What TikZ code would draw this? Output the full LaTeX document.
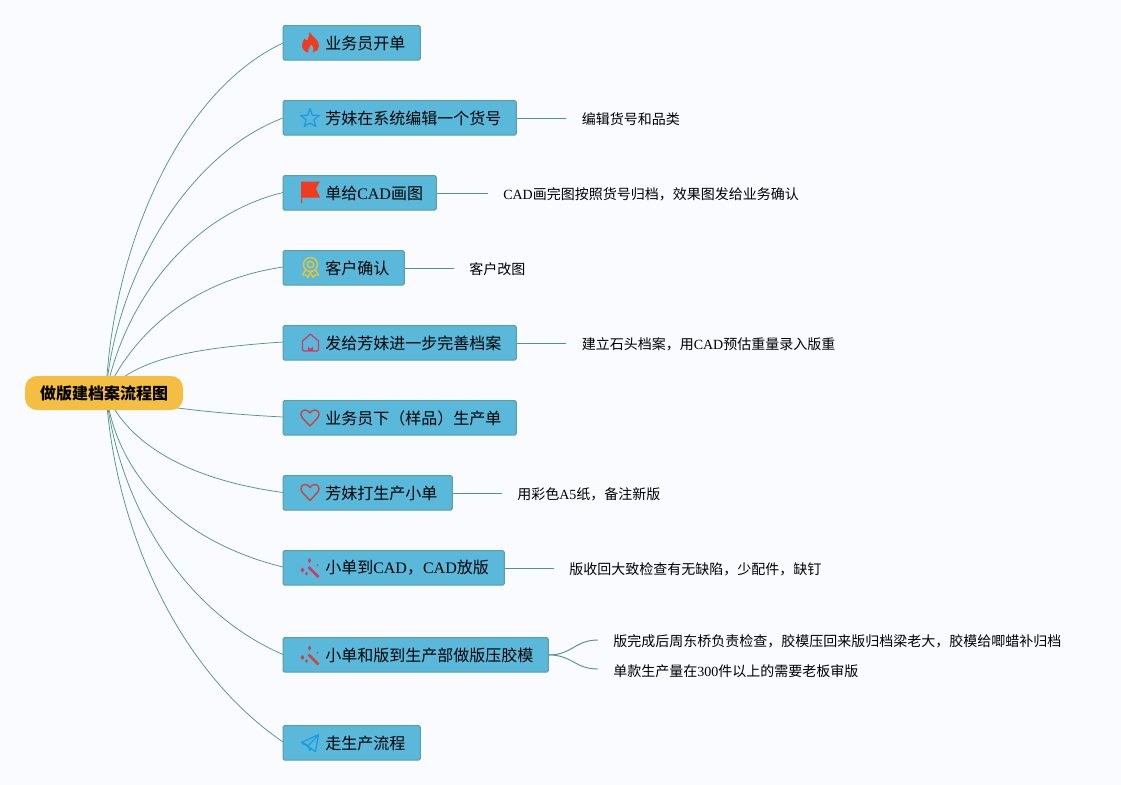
\documentclass[tikz,border=0pt]{standalone}
\usepackage{fontspec}
\setmainfont{Liberation Serif}
\newfontfamily\cjk{Noto Sans CJK SC}
\newcommand{\zh}[1]{{\cjk #1}}
\definecolor{bgc}{HTML}{F9FBFF}
\definecolor{boxfill}{HTML}{5AB8DA}
\definecolor{boxedge}{HTML}{5A9FA8}
\definecolor{linkc}{HTML}{4F9488}
\definecolor{rootc}{HTML}{F4BE42}
\definecolor{fire}{HTML}{F23A1E}
\definecolor{bluei}{HTML}{1E9BE0}
\definecolor{gold}{HTML}{E8C33A}
\definecolor{rosei}{HTML}{D23A62}
\definecolor{redi}{HTML}{C8463C}
\tikzset{
  x=0.75pt,y=-0.75pt,
  rootnode/.style={fill=rootc,rounded corners=9pt,minimum width=118.5pt,minimum height=25.5pt,inner sep=0pt,font=\fontsize{12pt}{14pt}\selectfont\bfseries},
  boxnode/.style={fill=boxfill,draw=boxedge,line width=0.8pt,rounded corners=1.2pt,anchor=north west,minimum height=26pt,inner sep=0pt},
  boxtext/.style={anchor=west,inner sep=0pt,font=\fontsize{12pt}{14pt}\selectfont},
  notetext/.style={anchor=west,inner sep=0pt,font=\fontsize{10.5pt}{13pt}\selectfont},
  link/.style={draw=linkc,line width=0.55pt},
  notelink/.style={link,yshift=0.6pt},
  iconline/.style={line width=0.95pt,line join=round},
}
\newcommand{\wandicon}[1]{%
  \draw[#1,line width=2.1pt] (-2,-1) -- (8,9);
  \fill[#1] (-8,-0.5) -- (-6,2) -- (-8,4.5) -- (-10,2) -- cycle;
  \fill[#1] (-1,-10) -- (0.6,-7.5) -- (-1,-5) -- (-2.6,-7.5) -- cycle;
  \fill[#1] (-4,3.5) -- (-2.6,5.5) -- (-4,7.5) -- (-5.4,5.5) -- cycle;
  \fill[#1] (7,-3) circle[radius=1];
}
\newcommand{\hearticon}{%
  \draw[redi,line width=1.05pt,line join=round] (0,8) -- (-7.5,0) .. controls (-11,-4) and (-8,-8) .. (-5,-8) .. controls (-3,-8) and (-1,-7) .. (0,-5) .. controls (1,-7) and (3,-8) .. (5,-8) .. controls (8,-8) and (11,-4) .. (7.5,0) -- cycle;
}
\begin{document}
\begin{tikzpicture}
\useasboundingbox[fill=bgc] (0,0) rectangle (1121,785);
\coordinate (hub) at (106,393);
\coordinate (b1w) at (283,43);
\coordinate (b2w) at (283,118);
\coordinate (b3w) at (283,192.5);
\coordinate (b4w) at (283,267);
\coordinate (b5w) at (283,342);
\coordinate (b6w) at (283,417);
\coordinate (b7w) at (283,492.5);
\coordinate (b8w) at (283,567);
\coordinate (b9w) at (283,654.5);
\coordinate (b10w) at (283,742);
\draw[link] (hub) .. controls (112,250) and (178,92) .. (b1w);
\draw[link] (hub) .. controls (115,280) and (185,155) .. (b2w);
\draw[link] (hub) .. controls (125,300) and (190,215) .. (b3w);
\draw[link] (hub) .. controls (135,330) and (195,280) .. (b4w);
\draw[link] (hub) .. controls (135,358) and (195,348) .. (b5w);
\draw[link] (hub) .. controls (140,405) and (205,413) .. (b6w);
\draw[link] (hub) .. controls (128,445) and (190,480) .. (b7w);
\draw[link] (hub) .. controls (118,480) and (185,543) .. (b8w);
\draw[link] (hub) .. controls (118,500) and (180,610) .. (b9w);
\draw[link] (hub) .. controls (115,530) and (178,670) .. (b10w);
\node[rootnode] (root) at (104,393) {\zh{\bfseries 做版建档案流程图}};
% boxes
\node[boxnode,minimum width=103pt] (b1) at (282.5,25) {};
\node[boxnode,minimum width=175pt] (b2) at (282.5,100) {};
\node[boxnode,minimum width=115pt] (b3) at (282.5,175) {};
\node[boxnode,minimum width=91pt] (b4) at (282.5,250) {};
\node[boxnode,minimum width=175pt] (b5) at (282.5,325) {};
\node[boxnode,minimum width=175pt] (b6) at (282.5,400) {};
\node[boxnode,minimum width=127pt] (b7) at (282.5,475) {};
\node[boxnode,minimum width=166pt] (b8) at (282.5,550) {};
\node[boxnode,minimum width=199pt] (b9) at (282.5,637) {};
\node[boxnode,minimum width=103pt] (b10) at (282.5,725) {};
% box labels
\node[boxtext] (t1) at (325,43) {\zh{业务员开单}};
\node[boxtext] (t2) at (325,118) {\zh{芳妹在系统编辑一个货号}};
\node[boxtext] (t3) at (325,193) {\zh{单给}CAD\zh{画图}};
\node[boxtext] (t4) at (325,268) {\zh{客户确认}};
\node[boxtext] (t5) at (325,343) {\zh{发给芳妹进一步完善档案}};
\node[boxtext] (t6) at (325,418) {\zh{业务员下（样品）生产单}};
\node[boxtext] (t7) at (325,493) {\zh{芳妹打生产小单}};
\node[boxtext] (t8) at (325,568) {\zh{小单到}CAD\zh{，}CAD\zh{放版}};
\node[boxtext] (t9) at (325,655.5) {\zh{小单和版到生产部做版压胶模}};
\node[boxtext] (t10) at (325,743) {\zh{走生产流程}};
% notes
\node[notetext] (n2) at (581.5,119) {\zh{编辑货号和品类}};
\node[notetext] (n3) at (503,194) {CAD\zh{画完图按照货号归档，效果图发给业务确认}};
\node[notetext] (n4) at (469,269) {\zh{客户改图}};
\node[notetext] (n5) at (581.5,344) {\zh{建立石头档案，用}CAD\zh{预估重量录入版重}};
\node[notetext] (n7) at (517,494) {\zh{用彩色}A5\zh{纸，备注新版}};
\node[notetext] (n8) at (569,569) {\zh{版收回大致检查有无缺陷，少配件，缺钉}};
\node[notetext] (n9a) at (613,641) {\zh{版完成后周东桥负责检查，胶模压回来版归档梁老大，胶模给唧蜡补归档}};
\node[notetext] (n9b) at (613,671) {\zh{单款生产量在}300\zh{件以上的需要老板审版}};
% note links
\coordinate (e2) at (566,118);
\coordinate (e3) at (488,192);
\coordinate (e4) at (454,267);
\coordinate (e5) at (566,342);
\coordinate (e7) at (502,492);
\coordinate (e8) at (554,567);
\coordinate (e9a) at (598,640);
\coordinate (e9b) at (598,669);
\draw[notelink] (b2.east) -- (b2.east -| e2);
\draw[notelink] (b3.east) -- (b3.east -| e3);
\draw[notelink] (b4.east) -- (b4.east -| e4);
\draw[notelink] (b5.east) -- (b5.east -| e5);
\draw[notelink] (b7.east) -- (b7.east -| e7);
\draw[notelink] (b8.east) -- (b8.east -| e8);
\draw[link,line width=0.7pt] (b9.east) .. controls (572,655) and (575,640) .. (e9a);
\draw[link,line width=0.7pt] (b9.east) .. controls (572,655) and (575,669) .. (e9b);
% icons
\begin{scope}[shift={(310.5,43)}]
\fill[fire] (-1,-11) .. controls (1,-7) and (9,-3) .. (8.5,3) .. controls (8,7) and (5,9) .. (2,9.5) .. controls (4,7) and (3,3) .. (0.5,1.5) .. controls (0,4) and (-3.5,6) .. (-2,9.5) .. controls (-6,9) and (-8.5,6) .. (-8.5,2) .. controls (-8.5,-1) and (-7,-2) .. (-6,-4.5) .. controls (-5,-3) and (-4,-2.5) .. (-3,-3) .. controls (-2,-5) and (-1,-8) .. (-1,-11) -- cycle;
\end{scope}
\begin{scope}[shift={(310,118.5)}]
\draw[bluei,iconline] (-90:9.8) -- (-54:4) -- (-18:9.8) -- (18:4) -- (54:9.8) -- (90:4.6) -- (126:9.8) -- (162:4) -- (198:9.8) -- (234:4) -- cycle;
\end{scope}
\begin{scope}[shift={(310,192.5)}]
\fill[fire] (-9,-11) -- (10,-11) -- (6,-4) -- (10,5) -- (-8,5) -- (-8,10.5) -- (-9,10.5) -- cycle;
\end{scope}
\begin{scope}[shift={(310.5,267)}]
\draw[gold,line width=1.05pt] (0,-2.5) circle[radius=7];
\draw[gold,line width=1.05pt] (0,-2.5) circle[radius=3.2];
\draw[gold,line width=1.05pt,line join=round] (-5,3) -- (-8,8) -- (-4.5,8) -- (-2.5,10.5) -- (0,5) -- (2.5,10.5) -- (4.5,8) -- (8,8) -- (5,3);
\end{scope}
\begin{scope}[shift={(310.5,343)}]
\draw[rosei,iconline] (-8,-2) -- (0,-9) -- (8,-2) -- (8,6.5) .. controls (8,7.5) and (7,8) .. (6,8) -- (-6,8) .. controls (-7,8) and (-8,7.5) .. (-8,6.5) -- cycle;
\fill[rosei] (-2.5,8) -- (-2.5,3) arc[start angle=180,end angle=0,radius=2.5] -- (2.5,8) -- cycle;
\end{scope}
\begin{scope}[shift={(310,418)}]
\hearticon
\end{scope}
\begin{scope}[shift={(310,492.5)}]
\hearticon
\end{scope}
\begin{scope}[shift={(310.5,568)}]
\wandicon{rosei}
\end{scope}
\begin{scope}[shift={(310.5,655.5)}]
\wandicon{redi}
\end{scope}
\begin{scope}[shift={(310.5,742.5)}]
\draw[bluei,iconline] (-9,0) -- (8,-8) -- (5,9) -- cycle;
\draw[bluei,iconline] (-9,0) -- (-2,3) -- (8,-8) (-2,3) -- (-1,8) -- (1,5.5);
\end{scope}
\end{tikzpicture}
\end{document}
